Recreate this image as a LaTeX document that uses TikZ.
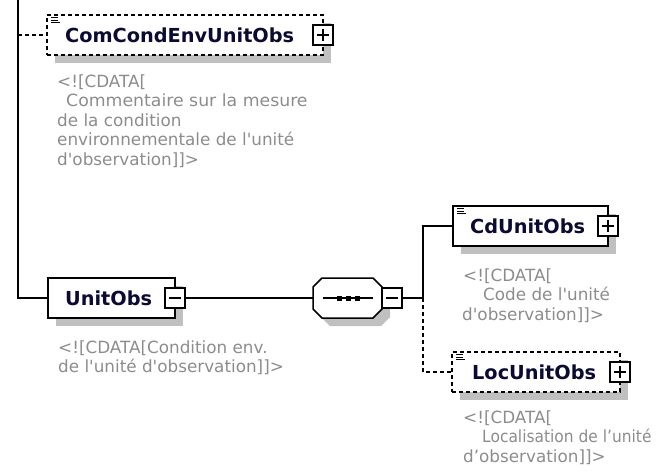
\documentclass[tikz,border=0pt]{standalone}
\usepackage{fontspec}
\usepackage{graphicx}
\usetikzlibrary{backgrounds}
\newfontfamily\cmtfont{DejaVu Sans}[Ligatures=TeXOff]
\newfontfamily\lblfont{DejaVu Sans}[Ligatures=TeXOff]
\definecolor{lblc}{RGB}{10,10,50}
\definecolor{cmtc}{RGB}{140,140,140}
\definecolor{shadc}{RGB}{192,192,192}
\begin{document}
\begin{tikzpicture}[x=1pt,y=-1pt,
  conn/.style={line width=1.6pt, draw=black},
  dconn/.style={conn, dash pattern=on 4pt off 3pt},
  elbox/.style={draw=black, line width=1.5pt, fill=white, rectangle, inner sep=0pt, outer sep=0pt, anchor=north west},
  optbox/.style={elbox, dash pattern=on 4pt off 3pt},
  pmbox/.style={draw=black, line width=1.2pt, fill=white, rectangle, minimum size=20pt, inner sep=0pt, outer sep=0pt},
  pmline/.style={line width=1.2pt, draw=black},
  icon/.style={line width=0.9pt, draw=black},
  lbl/.style={font=\lblfont\bfseries\fontsize{19.3}{23}\selectfont, text=lblc, inner sep=0pt, anchor=base west},
  cmt/.style={font=\cmtfont\fontsize{16.8}{20}\selectfont, text=cmtc, inner sep=0pt, anchor=base west},
]
\useasboundingbox (0,0) rectangle (657,472);

% ---- sequence compositor (shadow + octagon) ----
\fill[shadc, shift={(8,8)}] (322,278) -- (373,278) -- (382,287) -- (382,309) -- (373,318) -- (322,318) -- (313,309) -- (313,287) -- cycle;
\node[rectangle, inner sep=0pt, outer sep=0pt, minimum width=69pt, minimum height=40pt, anchor=north west] (seq) at (313,278) {};
\draw[line width=1.5pt, fill=white] (322,278) -- (373,278) -- (382,287) -- (382,309) -- (373,318) -- (322,318) -- (313,309) -- (313,287) -- cycle;
\draw[line width=1.5pt] ([shift={(10,0)}]seq.west) -- ([shift={(-9,0)}]seq.east);
\draw[line width=5pt, dash pattern=on 5pt off 4pt] ([shift={(24,0)}]seq.west) -- ([shift={(49,0)}]seq.west);
\node[pmbox, anchor=west] (seqm) at (seq.east) {};
\draw[pmline] ([shift={(-6,0)}]seqm.center) -- ([shift={(6,0)}]seqm.center);

% ---- element boxes ----
\node[optbox, minimum width=276pt, minimum height=40pt] (cc) at (47,15) {};
\node[elbox, minimum width=127pt, minimum height=40pt] (uo) at (48,278) {};
\node[elbox, minimum width=155pt, minimum height=40pt] (cd) at (453,206) {};
\node[optbox, minimum width=168pt, minimum height=40pt] (loc) at (452,352) {};

\begin{scope}[on background layer]
  \foreach \n in {cc,uo,cd,loc}
    \fill[shadc] ([shift={(8,8)}]\n.north west) rectangle ([shift={(8,8)}]\n.south east);
\end{scope}

% labels
\node[lbl] (cct) at (65,42) {ComCondEnvUnitObs};
\node[lbl] (uot) at (65,305) {UnitObs};
\node[lbl] (cdt) at (470,233) {CdUnitObs};
\node[lbl] (loct) at (472,379) {LocUnitObs};

% plus / minus boxes
\node[pmbox] (ccp) at (cc.east) {};
\node[pmbox] (uom) at (uo.east) {};
\node[pmbox] (cdp) at (cd.east) {};
\node[pmbox] (locp) at (loc.east) {};
\foreach \n in {ccp,cdp,locp}{
  \draw[pmline] ([shift={(-6,0)}]\n.center) -- ([shift={(6,0)}]\n.center);
  \draw[pmline] ([shift={(0,-6)}]\n.center) -- ([shift={(0,6)}]\n.center);
}
\draw[pmline] ([shift={(-6,0)}]uom.center) -- ([shift={(6,0)}]uom.center);

% annotation icons
\foreach \n in {cc,cd,loc}{
  \fill[white] ([shift={(3,1)}]\n.north west) rectangle ([shift={(13,10)}]\n.north west);
  \draw[icon] ([shift={(4,2.5)}]\n.north west) -- ([shift={(11,2.5)}]\n.north west);
  \draw[icon] ([shift={(4,5)}]\n.north west) -- ([shift={(11,5)}]\n.north west);
  \draw[icon] ([shift={(4,7.5)}]\n.north west) -- ([shift={(13,7.5)}]\n.north west);
}

% ---- connectors ----
\coordinate (trunktop) at (18,0);
\draw[conn] (trunktop) |- (uo.west);
\draw[dconn] (trunktop |- cc.west) -- (cc.west);
\draw[conn] (uom.east) -- (seq.west);
\coordinate (fork) at (423,298);
\draw[conn] (seqm.east) -- (fork) |- (cd.west);
\draw[dconn] (fork) |- (loc.west);

% ---- comments ----
\node[cmt] (cm1) at (57,87) {<![CDATA[};
\node[cmt] (cm2) at (66,106.5) {\scalebox{1.03}[1]{Commentaire sur la mesure}};
\node[cmt] (cm3) at (57,126) {de la condition};
\node[cmt] (cm4) at (57,145.5) {environnementale de l'unité};
\node[cmt] (cm5) at (57,165) {d'observation]]>};

\node[cmt] (cm6) at (58,353) {<![CDATA[Condition env.};
\node[cmt] (cm7) at (58,372) {de l'unité d'observation]]>};

\node[cmt] (cm8) at (463,281) {<![CDATA[};
\node[cmt] (cm9) at (483,300.5) {Code de l'unité};
\node[cmt] (cm10) at (462,320) {d'observation]]>};

\node[cmt] (cm11) at (463,423) {<![CDATA[};
\node[cmt] (cm12) at (482,442.5) {\scalebox{0.92}[1]{Localisation de l’unité}};
\node[cmt] (cm13) at (463,462) {d’observation]]>};
\end{tikzpicture}
\end{document}
